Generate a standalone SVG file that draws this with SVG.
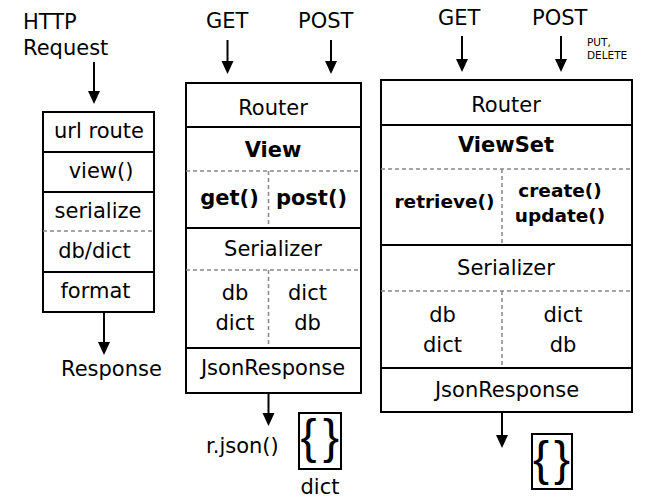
<svg xmlns="http://www.w3.org/2000/svg" width="646" height="499" viewBox="0 0 646 499">
<style>
text{font-family:"DejaVu Sans","Liberation Sans",sans-serif;font-size:21px;fill:#000}
.c{text-anchor:middle}
.b{font-weight:bold}
.s{font-size:18.5px;font-weight:bold}
.sm{font-size:10.5px}
.br{font-family:"Liberation Sans","DejaVu Sans",sans-serif;font-size:48px;text-anchor:middle}
.box{fill:#fff;stroke:#000;stroke-width:2}
.sl{stroke:#000;stroke-width:2;fill:none}
.dl{stroke:#888;stroke-width:1.5;stroke-dasharray:4 3;fill:none}
</style>

<g id="connectors">
<line class="sl" x1="94" y1="62" x2="94" y2="92"/><path d="M88,91 L100,91 L94,104 Z"/>
<line class="sl" x1="104" y1="312" x2="104" y2="343"/><path d="M98,342 L110,342 L104,355 Z"/>
<line class="sl" x1="227.5" y1="40" x2="227.5" y2="62"/><path d="M221.5,61 L233.5,61 L227.5,74 Z"/>
<line class="sl" x1="331" y1="40" x2="331" y2="62"/><path d="M325,61 L337,61 L331,74 Z"/>
<line class="sl" x1="268.5" y1="393" x2="268.5" y2="414"/><path d="M262.5,413 L274.5,413 L268.5,426 Z"/>
<line class="sl" x1="462" y1="36" x2="462" y2="60"/><path d="M456,59 L468,59 L462,72 Z"/>
<line class="sl" x1="561" y1="36" x2="561" y2="60"/><path d="M555,59 L567,59 L561,72 Z"/>
<line class="sl" x1="502" y1="412" x2="502" y2="436"/><path d="M496,435 L508,435 L502,448 Z"/>
</g>

<g id="labels">
<text x="23" y="29">HTTP</text>
<text x="23" y="55">Request</text>
<text x="61" y="376">Response</text>
<text x="206" y="28">GET</text>
<text x="298" y="28">POST</text>
<text x="206" y="453">r.json()</text>
<text x="438" y="25">GET</text>
<text x="532" y="25">POST</text>
<text class="sm" x="587" y="46">PUT,</text>
<text class="sm" x="587" y="59">DELETE</text>
</g>

<g id="simple-stack">
<rect class="box" x="43" y="112" width="111" height="200"/>
<line class="sl" x1="43" y1="152" x2="154" y2="152"/>
<line class="sl" x1="43" y1="192" x2="154" y2="192"/>
<line class="dl" x1="43" y1="231" x2="154" y2="231"/>
<line class="sl" x1="43" y1="272" x2="154" y2="272"/>
<text class="c" x="99" y="138">url route</text>
<text class="c" x="101" y="178">view()</text>
<text class="c" x="98" y="218">serialize</text>
<text class="c" x="94.5" y="258">db/dict</text>
<text class="c" x="95.5" y="298">format</text>
</g>

<g id="view-stack">
<rect class="box" x="186" y="83" width="175" height="310"/>
<line class="sl" x1="186" y1="127" x2="361" y2="127"/>
<line class="dl" x1="186" y1="171" x2="361" y2="171"/>
<line class="dl" x1="268.5" y1="171" x2="268.5" y2="228"/>
<line class="sl" x1="186" y1="228" x2="361" y2="228"/>
<line class="dl" x1="186" y1="270" x2="361" y2="270"/>
<line class="dl" x1="268.5" y1="270" x2="268.5" y2="348"/>
<line class="sl" x1="186" y1="348" x2="361" y2="348"/>
<text class="c" x="273" y="115">Router</text>
<text class="c b" x="273" y="157">View</text>
<text class="c b" x="229.5" y="205">get()</text>
<text class="c b" x="311.5" y="205">post()</text>
<text class="c" x="273" y="256">Serializer</text>
<text class="c" x="235" y="300">db</text>
<text class="c" x="235" y="330">dict</text>
<text class="c" x="307.5" y="300">dict</text>
<text class="c" x="307.5" y="330">db</text>
<text class="c" x="273" y="375">JsonResponse</text>
</g>

<g id="dict-mid">
<rect class="box" x="299" y="413" width="42" height="56"/>
<text class="br" x="308.5" y="453">{</text>
<text class="br" x="331" y="453">}</text>
<text class="c" x="320" y="494">dict</text>
</g>

<g id="viewset-stack">
<rect class="box" x="381" y="80" width="251" height="332"/>
<line class="sl" x1="381" y1="125" x2="632" y2="125"/>
<line class="dl" x1="381" y1="169" x2="632" y2="169"/>
<line class="dl" x1="502" y1="169" x2="502" y2="245"/>
<line class="sl" x1="381" y1="245" x2="632" y2="245"/>
<line class="dl" x1="381" y1="291" x2="632" y2="291"/>
<line class="dl" x1="502" y1="291" x2="502" y2="368"/>
<line class="sl" x1="381" y1="368" x2="632" y2="368"/>
<text class="c" x="506" y="112">Router</text>
<text class="c b" x="506" y="152">ViewSet</text>
<text class="c s" x="444.5" y="208">retrieve()</text>
<text class="c s" x="560" y="197">create()</text>
<text class="c s" x="560" y="222">update()</text>
<text class="c" x="506" y="275">Serializer</text>
<text class="c" x="442.5" y="322">db</text>
<text class="c" x="442.5" y="352">dict</text>
<text class="c" x="563" y="322">dict</text>
<text class="c" x="563" y="352">db</text>
<text class="c" x="507" y="397">JsonResponse</text>
</g>

<g id="dict-right">
<rect class="box" x="532" y="434" width="40" height="55"/>
<text class="br" x="541" y="475">{</text>
<text class="br" x="562" y="475">}</text>
</g>
</svg>
